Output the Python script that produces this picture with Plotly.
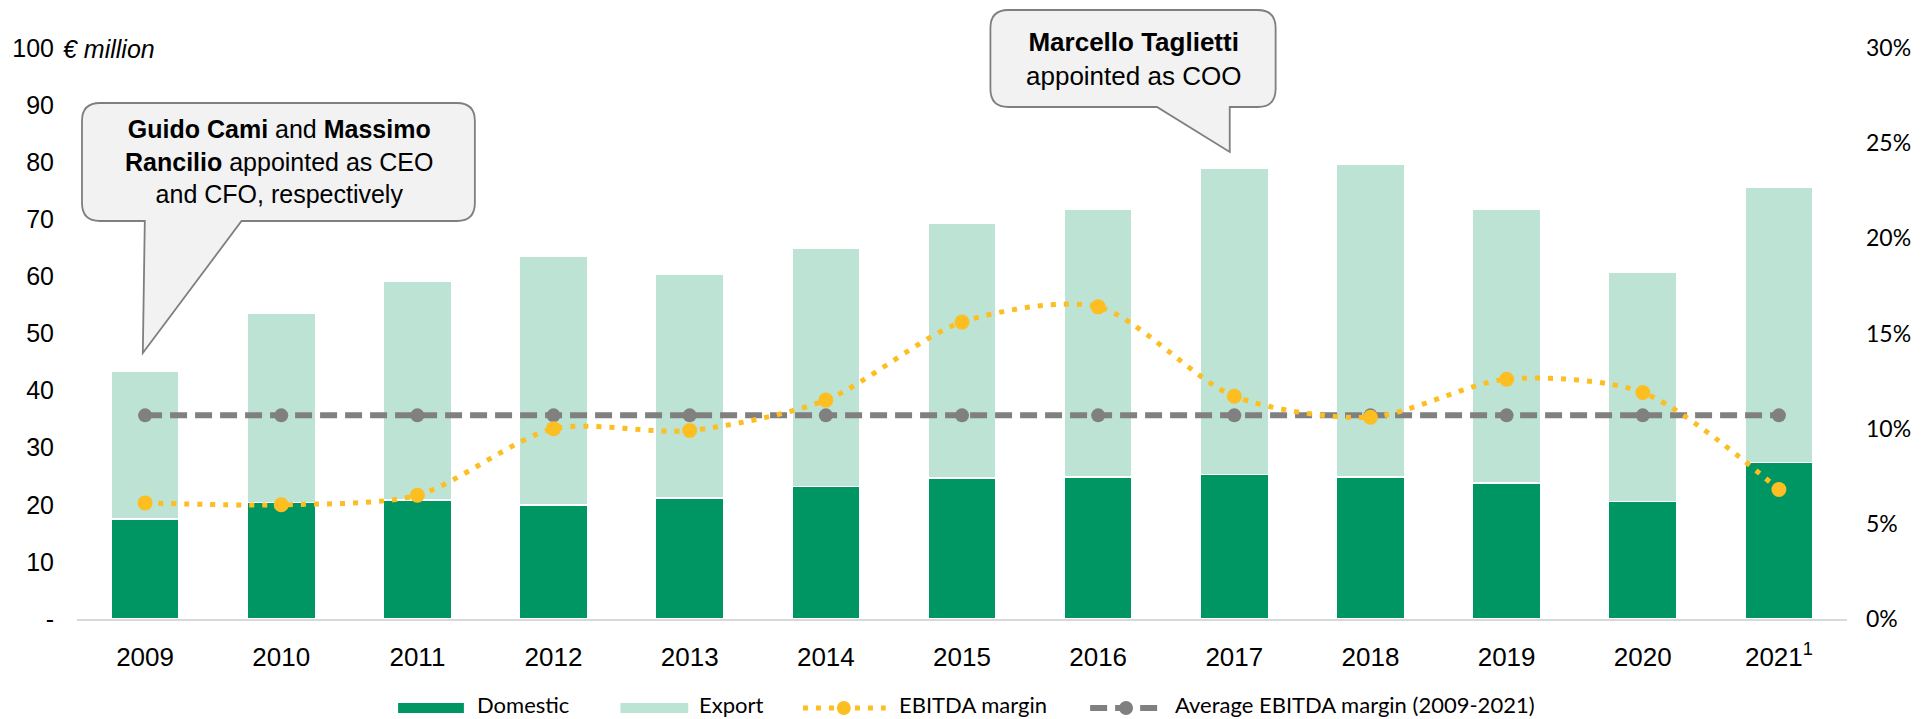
import plotly.graph_objects as go

# ---------------- data ----------------
years = ["2009", "2010", "2011", "2012", "2013", "2014", "2015",
         "2016", "2017", "2018", "2019", "2020", "2021"]
year_labels = ["2009", "2010", "2011", "2012", "2013", "2014", "2015",
               "2016", "2017", "2018", "2019", "2020", "2021<sup>1</sup>"]
domestic = [17.5, 20.4, 20.8, 20.0, 21.2, 23.2, 24.7, 24.9, 25.3, 24.9, 23.8, 20.6, 27.4]
export = [25.9, 33.2, 38.4, 43.5, 39.1, 41.8, 44.6, 46.8, 53.7, 54.7, 47.9, 40.1, 48.2]
ebitda_margin = [0.061, 0.060, 0.065, 0.100, 0.099, 0.115, 0.156, 0.164,
                 0.117, 0.106, 0.126, 0.119, 0.068]
avg_margin = [0.107] * 13
left_ticks = [0, 10, 20, 30, 40, 50, 60, 70, 80, 90, 100]
left_tick_text = ["-", "10", "20", "30", "40", "50", "60", "70", "80", "90", "100"]

# ---------------- styles ----------------
C_DOM = "#009664"
C_EXP = "#BDE3D5"
C_EBITDA = "#FDBE22"
C_AVG = "#808080"
FONT = "Liberation Sans"
FONT_NARROW = "Lato"

W, H = 1923, 719
PL, PR, PT, PB = 77, 1852, 48, 619


def px(x):
    return (x - PL) / (PR - PL)


def py(y):
    return (PB - y) / (PB - PT)


fig = go.Figure()
fig.add_trace(go.Bar(x=years, y=domestic, name="Domestic", marker_color=C_DOM,
                     marker_line=dict(color="white", width=1.5), width=0.5,
                     showlegend=False))
fig.add_trace(go.Bar(x=years, y=export, name="Export", marker_color=C_EXP,
                     marker_line=dict(color="white", width=1.5), width=0.5,
                     showlegend=False))
fig.add_trace(go.Scatter(x=years, y=avg_margin, yaxis="y2", mode="lines+markers",
                         name="Average EBITDA margin (2009-2021)",
                         line=dict(color=C_AVG, width=6, dash="17px,8px"),
                         marker=dict(size=14, color=C_AVG), showlegend=False))
fig.add_trace(go.Scatter(x=years, y=ebitda_margin, yaxis="y2", mode="lines+markers",
                         name="EBITDA margin",
                         line=dict(color=C_EBITDA, width=5, dash="5px,8px",
                                   shape="spline", smoothing=0.8),
                         marker=dict(size=15, color=C_EBITDA, symbol="circle"),
                         showlegend=False))

shapes = []
annotations = []


def callout(L, R, T, B, r, tail):
    p = f"M {px(L + r)},{py(T)} L {px(R - r)},{py(T)} Q {px(R)},{py(T)} {px(R)},{py(T + r)} "
    p += f"L {px(R)},{py(B - r)} Q {px(R)},{py(B)} {px(R - r)},{py(B)} "
    for (x, y) in tail:
        p += f"L {px(x)},{py(y)} "
    p += f"L {px(L + r)},{py(B)} Q {px(L)},{py(B)} {px(L)},{py(B - r)} "
    p += f"L {px(L)},{py(T + r)} Q {px(L)},{py(T)} {px(L + r)},{py(T)} Z"
    return dict(type="path", path=p, xref="paper", yref="paper",
                fillcolor="#F2F2F2", line=dict(color="#7F7F7F", width=1.8), layer="above")


shapes.append(callout(82, 476, 103, 221, 18, [(242, 221), (143, 353), (145, 221)]))
shapes.append(callout(993, 1279, 10, 107, 18, [(1233, 107), (1233, 152), (1160, 107)]))

annotations.append(dict(xref="paper", yref="paper", x=px(280), y=py(162),
                        text="<b>Guido Cami</b> and <b>Massimo</b><br><b>Rancilio</b> appointed as CEO<br>and CFO, respectively",
                        showarrow=False, xanchor="center", yanchor="middle", align="center",
                        font=dict(family=FONT, size=25, color="black")))
annotations.append(dict(xref="paper", yref="paper", x=px(1136), y=py(59),
                        text="<b>Marcello Taglietti</b><br>appointed as COO",
                        showarrow=False, xanchor="center", yanchor="middle", align="center",
                        font=dict(family=FONT, size=26, color="black")))
annotations.append(dict(xref="paper", yref="paper", x=px(61), y=py(49),
                        text="<i>€ million</i>", showarrow=False, xanchor="left", yanchor="middle",
                        font=dict(family=FONT, size=25, color="black")))

# ---- custom legend ----
LY = 708
LT = 704
shapes.append(dict(type="rect", xref="paper", yref="paper", x0=px(399), x1=px(465),
                   y0=py(713), y1=py(703), fillcolor=C_DOM, line=dict(width=0)))
shapes.append(dict(type="rect", xref="paper", yref="paper", x0=px(622), x1=px(690),
                   y0=py(713), y1=py(703), fillcolor=C_EXP, line=dict(width=0)))
shapes.append(dict(type="line", xref="paper", yref="paper", x0=px(805), x1=px(888),
                   y0=py(LY), y1=py(LY), line=dict(color=C_EBITDA, width=5, dash="5px,8px")))
shapes.append(dict(type="circle", xref="paper", yref="paper", x0=px(839), x1=px(853),
                   y0=py(715), y1=py(701), fillcolor=C_EBITDA, line=dict(width=0)))
shapes.append(dict(type="line", xref="paper", yref="paper", x0=px(1093), x1=px(1165),
                   y0=py(LY), y1=py(LY), line=dict(color=C_AVG, width=6, dash="17px,8px")))
shapes.append(dict(type="circle", xref="paper", yref="paper", x0=px(1122), x1=px(1136),
                   y0=py(715), y1=py(701), fillcolor=C_AVG, line=dict(width=0)))
for xpos, label in [(476, "Domestic"), (699, "Export"), (899, "EBITDA margin"),
                    (1176, "Average EBITDA margin (2009-2021)")]:
    annotations.append(dict(xref="paper", yref="paper", x=px(xpos), y=py(LT), text=label,
                            showarrow=False, xanchor="left", yanchor="middle",
                            font=dict(family=FONT_NARROW, size=22, color="black")))

fig.update_layout(
    width=W, height=H,
    margin=dict(l=PL, r=W - PR, t=PT, b=H - PB),
    barmode="stack",
    plot_bgcolor="white", paper_bgcolor="white",
    showlegend=False,
    shapes=shapes, annotations=annotations,
    xaxis=dict(type="category", range=[-0.5, 12.5], tickvals=years, ticktext=year_labels,
               showgrid=False, showline=True, linecolor="#D9D9D9", linewidth=2,
               ticks="", ticklabelstandoff=14,
               tickfont=dict(family=FONT, size=26, color="black")),
    yaxis=dict(range=[0, 100], tickvals=left_ticks, ticktext=left_tick_text,
               showgrid=False, zeroline=False, showline=False, ticks="",
               ticklabelstandoff=22,
               tickfont=dict(family=FONT, size=25, color="black")),
    yaxis2=dict(range=[0, 0.3], dtick=0.05, tickformat=".0%", overlaying="y", side="right",
                showgrid=False, zeroline=False, showline=False, ticks="",
                ticklabelstandoff=18,
                tickfont=dict(family=FONT_NARROW, size=23, color="black")),
)

fig.write_html("out.html", config={"displayModeBar": False},
               post_script="document.body.style.margin='0px';document.body.style.overflow='hidden';")
